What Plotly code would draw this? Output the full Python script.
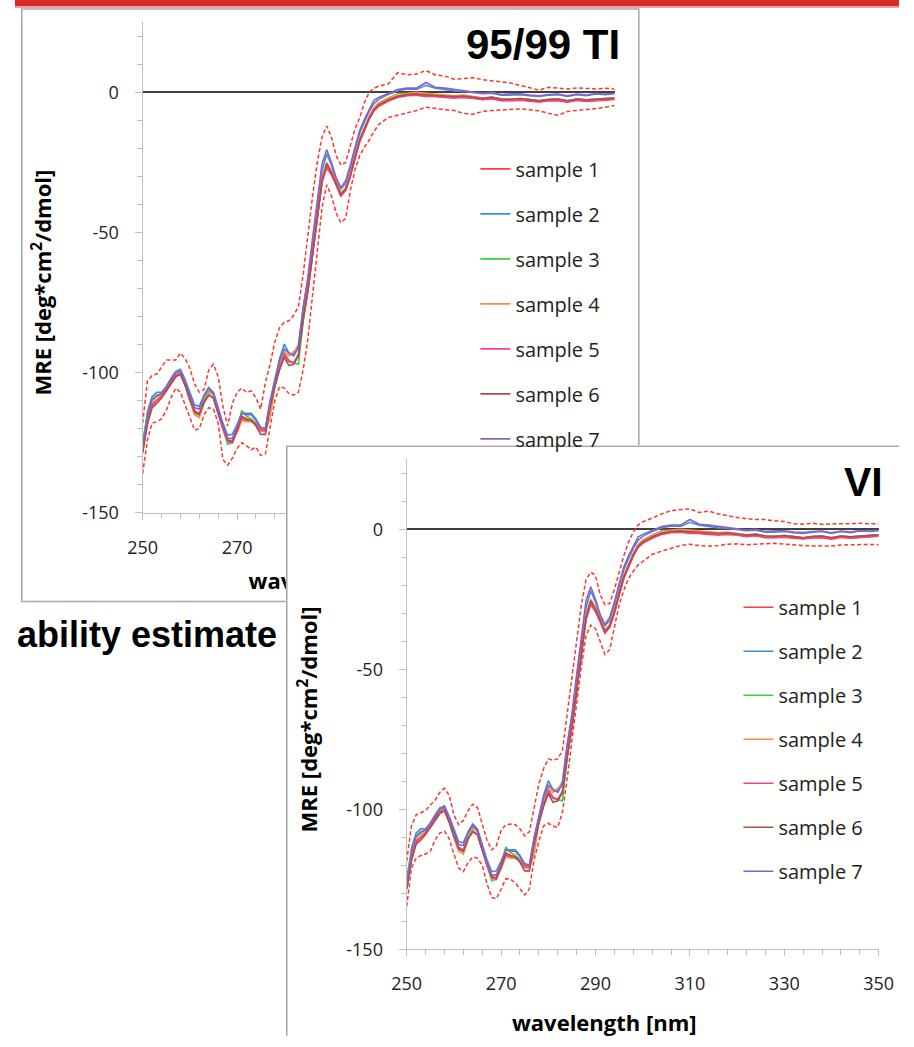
import plotly.graph_objects as go

# ---------------- data ----------------
wavelength = [250, 251, 252, 253, 254, 255, 256, 257, 258, 259,
              260, 261, 262, 263, 264, 265, 266, 267, 268, 269,
              270, 271, 272, 273, 274, 275, 276, 277, 278, 279,
              280, 281, 282, 283, 284, 285, 286, 287, 288, 289,
              290, 291, 292, 293, 294, 295, 296, 297, 298, 299,
              300, 302, 304, 306, 308, 310, 312, 314, 316, 318,
              320, 322, 324, 326, 328, 330, 332, 334, 336, 338,
              340, 342, 344, 346, 348, 350]

sample_1 = [-128.5, -117.5, -112, -110, -108.5, -106.5, -104, -101.5, -100.5, -104.5,
            -109.5, -114, -115, -110.5, -108, -109, -114.5, -120, -124.5, -125,
            -121, -116.5, -117, -117, -118.5, -120.5, -121, -111.5, -104.5, -98.5,
            -94, -96, -96.5, -94, -81, -71, -58, -44, -32, -26.5,
            -29, -33, -37, -35, -30, -23.5, -17.5, -13.5, -9.5, -6.5,
            -5, -3.2, -1.8, -1.2, -1, -1.5, -1.5, -1.8, -2, -1.8,
            -2, -2.6, -2.3, -3, -3, -2.8, -3.2, -3.4, -3, -3,
            -3.5, -2.8, -3.2, -2.9, -2.7, -2.5]
sample_2 = [-127, -114, -108.5, -107, -107, -105, -102, -99.5, -98.8, -102.5,
            -107, -111.5, -112, -108, -105.3, -107, -112.5, -118, -122.3, -122,
            -118.5, -114.5, -114.5, -114.5, -116.5, -119.5, -120, -110, -102.5, -95,
            -89.8, -93, -93.5, -90, -77, -67, -54, -40, -28, -22,
            -26, -31, -34.5, -32.5, -27, -20.5, -14.5, -10.5, -6.8, -4,
            -2.5, -0.8, 0.5, 1.2, 1, 2.5, 1.5, 1, 0.5, 0.3,
            0, -0.5, -0.3, -1, -1, -0.8, -1.2, -1.5, -1, -0.8,
            -1.5, -0.8, -1.2, -0.6, -0.8, -0.5]
sample_3 = [-124.5, -115, -110, -108.5, -107.5, -105.5, -103, -100.5, -100, -104.5,
            -110, -114.5, -115, -110, -106.5, -107.5, -114, -120, -125.5, -125,
            -120, -113.5, -115.5, -116.5, -118, -120, -120, -111, -104, -98,
            -93, -95.5, -96.5, -97, -82, -71, -57.5, -43.5, -31.5, -25.5,
            -28.5, -32.5, -36.5, -34.5, -29.5, -23, -17, -13, -9, -6,
            -4.5, -2.5, -1.2, -0.5, -0.5, -0.8, -1, -1.2, -1.5, -1.2,
            -1.5, -2, -1.8, -2.3, -2.5, -2.2, -2.6, -3, -2.6, -2.4,
            -3, -2.4, -2.7, -2.4, -2.2, -2]
sample_4 = [-127.5, -116.5, -111, -109.5, -108, -106, -103, -100.5, -99.5, -104,
            -110, -115, -116, -111, -107, -108, -114, -119.5, -123.5, -123.5,
            -121.5, -117, -117.5, -117.5, -118.5, -121, -121, -116, -105, -97.5,
            -92.5, -94, -92.5, -91, -79, -69, -56.5, -42.5, -30.5, -25,
            -28, -32, -36, -34, -29, -22.5, -16.5, -12.5, -8.5, -5.5,
            -3.8, -2, -0.5, -0.3, 0, -0.3, -0.6, -1, -1.2, -1,
            -1.5, -2, -1.7, -2.5, -2.6, -2.2, -2.6, -3, -2.5, -2.4,
            -3, -2.4, -2.8, -2.4, -2.2, -2]
sample_5 = [-128, -117.5, -111.5, -110, -108.5, -106, -103.5, -101, -100.5, -104.5,
            -109.5, -113.5, -114.5, -110.5, -108, -109, -114.5, -120, -124.5, -125,
            -120.5, -116, -116.5, -117, -118.5, -120.5, -120.5, -111.5, -104.5, -98.5,
            -93.5, -96, -96.5, -93.5, -81, -71, -58, -44, -32, -27,
            -29.5, -33, -37, -35, -30, -23.5, -17.5, -13.5, -9.5, -6.5,
            -4.8, -3, -1.6, -1, -0.8, -1.2, -1.5, -1.6, -1.9, -1.7,
            -2, -2.5, -2.2, -2.9, -3, -2.7, -3, -3.3, -3, -2.9,
            -3.4, -2.8, -3.1, -2.8, -2.6, -2.4]
sample_6 = [-128.5, -118.5, -112.5, -111, -109, -106.5, -104, -101.5, -100.5, -104.5,
            -109.5, -114, -115, -110.5, -108, -109, -114.5, -119.5, -124, -124.5,
            -120.5, -115.5, -116.5, -117, -119, -122, -122, -112.5, -105, -99,
            -94.5, -97.5, -97, -94, -81, -70.5, -57.5, -43.5, -31.5, -25.5,
            -28.5, -32.5, -36.5, -34.5, -29.5, -23, -17, -13, -9.2, -6.2,
            -4.5, -2.7, -1.4, -0.8, -0.6, -0.9, -1.1, -1.3, -1.5, -1.3,
            -1.6, -2.1, -1.8, -2.4, -2.5, -2.2, -2.6, -3, -2.6, -2.4,
            -3, -2.4, -2.7, -2.4, -2.2, -2]
sample_7 = [-127, -115.5, -109.5, -108, -107.5, -105, -102.5, -100, -99.3, -103,
            -108, -112.5, -113, -108.5, -105.5, -107.5, -113, -119, -123.5, -123.5,
            -119, -114.5, -115, -115, -117, -119.5, -120, -110.5, -103, -96,
            -91.5, -93, -94, -91, -77, -66, -52, -38, -25.5, -20.5,
            -25, -30.5, -34, -31.5, -26, -19.5, -13.5, -9.5, -6, -2.8,
            -1.8, -0.5, 1, 1.5, 1.5, 3.5, 1.8, 1.5, 1, 0.5,
            0.2, -0.3, 0, -0.8, -0.5, -0.5, -1, -1.2, -0.8, -0.6,
            -1.2, -0.6, -1, -0.4, -0.6, -0.3]

# 95/99 tolerance interval (back panel)
ti_upper = [-118, -103, -101, -100.5, -98, -95.5, -95.5, -95.5, -93, -95,
            -98.5, -104, -107, -106, -99, -97, -101.5, -112, -119, -111,
            -107, -105.5, -107, -106.5, -109, -113, -103.5, -97, -89, -84,
            -82, -81.5, -79.5, -76.5, -65, -50, -37, -25, -16, -12,
            -16, -22.5, -26, -25, -19, -13, -9, -3.5, 0, 1.5,
            2.2, 3, 7, 6.3, 6.5, 7.8, 6.2, 5.8, 4.7, 5,
            5.2, 4.5, 4, 3.7, 3.3, 2.5, 1.5, 0.8, 1.8, 1.5,
            1.2, 1.6, 1.4, 1.2, 1.5, 1.2]
ti_lower = [-136, -124, -118, -117.5, -116.5, -113.5, -109, -105.5, -107, -111.5,
            -116.5, -120.5, -120, -115, -112.5, -113, -118, -131, -133, -130.5,
            -127, -125, -126, -127.5, -126.5, -129.5, -129, -119, -110, -105,
            -105.5, -107.5, -108, -107, -99, -88, -73, -58, -41, -33,
            -37, -43, -46.5, -45, -35, -27.5, -22.5, -19.5, -17, -14,
            -11.5, -9, -8.2, -7.3, -6.5, -5.3, -5.8, -6.2, -6.5, -7.5,
            -7.8, -6.8, -6.5, -6.3, -6, -5.9, -6.2, -6.6, -7.5, -8.2,
            -6.8, -6.5, -6, -5.8, -5.3, -4.7]

# VI interval (front panel)
vi_upper = [-118.5, -106, -102, -101.2, -100.5, -98.5, -96.8, -94, -92.5, -95,
            -102, -105.5, -104, -100.5, -98.2, -99.4, -105, -111, -114.5, -113,
            -107.5, -105.5, -105.3, -105.5, -107, -109.5, -108, -100, -91, -85.5,
            -82, -82.5, -82, -79, -66, -52, -40, -27, -18, -15.3,
            -16.5, -23.5, -27, -26.5, -21.5, -15.5, -9.5, -4.5, -1, 1.5,
            2.7, 4, 5.5, 6.7, 7, 7.3, 6, 6.5, 5.5, 4.8,
            4.2, 3.8, 3.5, 3.5, 3, 2.8, 2, 1.8, 2.2, 1.8,
            2, 2, 2, 2.2, 2, 2]
vi_lower = [-134.7, -121, -117.5, -116.5, -116, -115, -111, -108.5, -107.8, -110.5,
            -116, -121, -122.3, -119, -117, -117.5, -120, -126.5, -131.5, -132,
            -128.5, -124.8, -125, -126.3, -128.5, -130.6, -128.5, -118, -111.5, -106,
            -105, -106, -106.5, -101, -89, -75, -61, -49, -38, -34.2,
            -35.5, -40, -44.7, -43, -35, -27, -21.8, -17.5, -15, -12.8,
            -11.5, -9, -7.8, -6.8, -5.8, -5.3, -5.8, -6, -5.8, -5.3,
            -5.2, -5.5, -5.3, -5, -5, -5.3, -5.5, -5.8, -6, -5.9,
            -6, -5.6, -5.5, -5.5, -5.4, -5.5]

sample_names = ["sample 1", "sample 2", "sample 3", "sample 4",
                "sample 5", "sample 6", "sample 7"]
samples = [sample_1, sample_2, sample_3, sample_4, sample_5, sample_6, sample_7]
sample_colors = ["#ff3b3b", "#3c8fd6", "#3ccf3c", "#ff8a3d",
                 "#ff3c9a", "#a8514b", "#8c5fc8"]
bound_color = "#ff3333"

y_tickvals = [-150, -100, -50, 0]
y_ticktext = ["-150", "-100", "-50", "0"]
x_tickvals = [250, 270, 290, 310, 330, 350]
x_ticktext = ["250", "270", "290", "310", "330", "350"]

panel_titles = ["95/99 TI", "VI"]
x_title = "wavelength [nm]"
y_title = "MRE [deg*cm<sup>2</sup>/dmol]"
side_text = "ability estimate"

for s in samples + [ti_upper, ti_lower, vi_upper, vi_lower]:
    assert len(s) == len(wavelength), len(s)

# ---------------- geometry helpers (pixels -> paper) ----------------
W, H = 914, 1047
def px(x):
    return x / W
def py(y):
    return 1 - y / H

FONT = "Open Sans"
TXT = "#222222"
AX = "#bfbfbf"

fig = go.Figure()

def add_panel(xa, ya, upper, lower, legend):
    for b in (upper, lower):
        fig.add_trace(go.Scatter(x=wavelength, y=b, mode="lines", xaxis=xa, yaxis=ya,
                                 line=dict(color=bound_color, width=1.5, dash="4px,2.5px"),
                                 showlegend=False, hoverinfo="skip"))
    for i, (name, vals, col) in enumerate(zip(sample_names, samples, sample_colors)):
        fig.add_trace(go.Scatter(x=wavelength, y=vals, mode="lines", name=name,
                                 xaxis=xa, yaxis=ya, legend=legend,
                                 legendgroup=legend + str(i),
                                 line=dict(color=col, width=1.6), hoverinfo="skip"))

# back panel (x/y)
add_panel("x", "y", ti_upper, ti_lower, "legend")
# holder for back panel x title (x2/y2) - drawn beneath the front panel
fig.add_trace(go.Scatter(x=[292], y=[0.5], mode="text", text=["<b>" + x_title + "</b>"],
                         textfont=dict(family=FONT, size=22, color="#000000"),
                         textposition="middle center", xaxis="x2", yaxis="y2",
                         showlegend=False, hoverinfo="skip"))
# blocker subplot (x3/y3) for the front panel card
fig.add_trace(go.Scatter(x=[None], y=[None], xaxis="x3", yaxis="y3",
                         showlegend=False, hoverinfo="skip"))
# front panel (x4/y4)
add_panel("x4", "y4", vi_upper, vi_lower, "legend2")

def xaxis_style(dom, anchor):
    return dict(domain=dom, anchor=anchor, range=[250, 350],
                tickmode="array", tickvals=x_tickvals, ticktext=x_ticktext,
                showline=True, linecolor=AX, linewidth=1.3, ticks="outside",
                ticklen=6, tickcolor=AX, tickwidth=1.2, showgrid=False, zeroline=False,
                tickfont=dict(family=FONT, size=18, color=TXT), ticklabelstandoff=12,
                minor=dict(dtick=4, tick0=250, ticks="outside", ticklen=5,
                           tickcolor=AX, tickwidth=1.2, showgrid=False),
                fixedrange=True)

def yaxis_style(dom, anchor):
    return dict(domain=dom, anchor=anchor, range=[-150, 25],
                tickmode="array", tickvals=y_tickvals, ticktext=y_ticktext,
                showline=True, linecolor=AX, linewidth=1.3, ticks="outside",
                ticklen=7, tickcolor=AX, tickwidth=1.2, showgrid=False,
                zeroline=True, zerolinecolor="#404040", zerolinewidth=1.6,
                tickfont=dict(family=FONT, size=18, color=TXT), ticklabelstandoff=12,
                minor=dict(dtick=10, tick0=0, ticks="outside", ticklen=5,
                           tickcolor=AX, tickwidth=1.2, showgrid=False),
                fixedrange=True)

hidden = dict(visible=False, showgrid=False, zeroline=False, fixedrange=True)

fig.update_layout(
    width=W, height=H, margin=dict(l=0, r=0, t=0, b=0),
    paper_bgcolor="#ffffff", plot_bgcolor="#fffffe",
    xaxis=xaxis_style([px(132), px(620)], "y"),
    yaxis=yaxis_style([py(518.3), py(22.5)], "x"),
    xaxis2=dict(domain=[px(132), px(620)], anchor="y2", range=[250, 350], **hidden),
    yaxis2=dict(domain=[py(620), py(560)], anchor="x2", range=[0, 1], **hidden),
    xaxis3=dict(domain=[px(280), 1], anchor="y3", range=[280, 914], **hidden),
    yaxis3=dict(domain=[0, py(450)], anchor="x3", range=[1047, 450], **hidden),
    xaxis4=xaxis_style([px(405), px(893)], "y4"),
    yaxis4=yaxis_style([py(959.3), py(464.2)], "x4"),
    legend=dict(x=px(476), y=py(151), xanchor="left", yanchor="top",
                font=dict(family=FONT, size=20, color=TXT), bgcolor="rgba(0,0,0,0)",
                borderwidth=0, tracegroupgap=16, itemwidth=30, itemclick=False),
    legend2=dict(x=px(748), y=py(594), xanchor="left", yanchor="top",
                 font=dict(family=FONT, size=20, color=TXT), bgcolor="rgba(0,0,0,0)",
                 borderwidth=0, tracegroupgap=15, itemwidth=30, itemclick=False),
    showlegend=True,
)

shapes = [
    # red header bar
    dict(type="rect", xref="paper", yref="paper", x0=0, x1=1, y0=py(6.5), y1=1,
         fillcolor="#d52b27", line=dict(width=0), layer="below"),
    dict(type="rect", xref="paper", yref="paper", x0=0, x1=1, y0=py(8), y1=py(6.5),
         fillcolor="#eba3a1", line=dict(width=0), layer="below"),
    # back panel card
    dict(type="rect", xref="paper", yref="paper", x0=px(7), x1=px(645),
         y0=py(608), y1=py(9), line=dict(color="#a6a6a6", width=1.5),
         fillcolor="rgba(0,0,0,0)", layer="below"),
    # front panel card (sits in its own subplot so it hides the back panel)
    dict(type="rect", xref="x3", yref="y3", x0=281, x1=930, y0=451, y1=1060,
         line=dict(color="#a6a6a6", width=1.5), fillcolor="#ffffff", layer="below"),
]
fig.update_layout(shapes=shapes)

ann = [
    dict(text="<b>" + y_title + "</b>", x=px(27.5), y=py(286), textangle=-90,
         font=dict(family=FONT, size=22, color="#000000")),
    dict(text="<b>" + y_title + "</b>", x=px(302), y=py(727), textangle=-90,
         font=dict(family=FONT, size=22, color="#000000")),
    dict(text="<b>" + x_title + "</b>", x=px(610), y=py(1033),
         font=dict(family=FONT, size=22, color="#000000")),
    dict(text="<b>" + panel_titles[0] + "</b>", x=px(628), y=py(45), xanchor="right",
         font=dict(family="Liberation Sans", size=42, color="#000000")),
    dict(text="<b>" + panel_titles[1] + "</b>", x=px(900), y=py(487), xanchor="right",
         font=dict(family="Liberation Sans", size=41, color="#000000")),
    dict(text="<b>" + side_text + "</b>", x=0, y=py(641), xanchor="left",
         font=dict(family="Liberation Sans", size=36, color="#000000")),
]
for a in ann:
    a.setdefault("xref", "paper")
    a.setdefault("yref", "paper")
    a.setdefault("showarrow", False)
    a.setdefault("xanchor", "center")
    a.setdefault("yanchor", "middle")
fig.update_layout(annotations=ann)

fig.write_html(
    "out.html",
    config={"displayModeBar": False},
    post_script=("document.documentElement.style.margin='0';"
                 "document.body.style.margin='0';document.body.style.padding='0';"
                 "document.documentElement.style.overflow='hidden';"
                 "document.body.style.overflow='hidden';"),
)
